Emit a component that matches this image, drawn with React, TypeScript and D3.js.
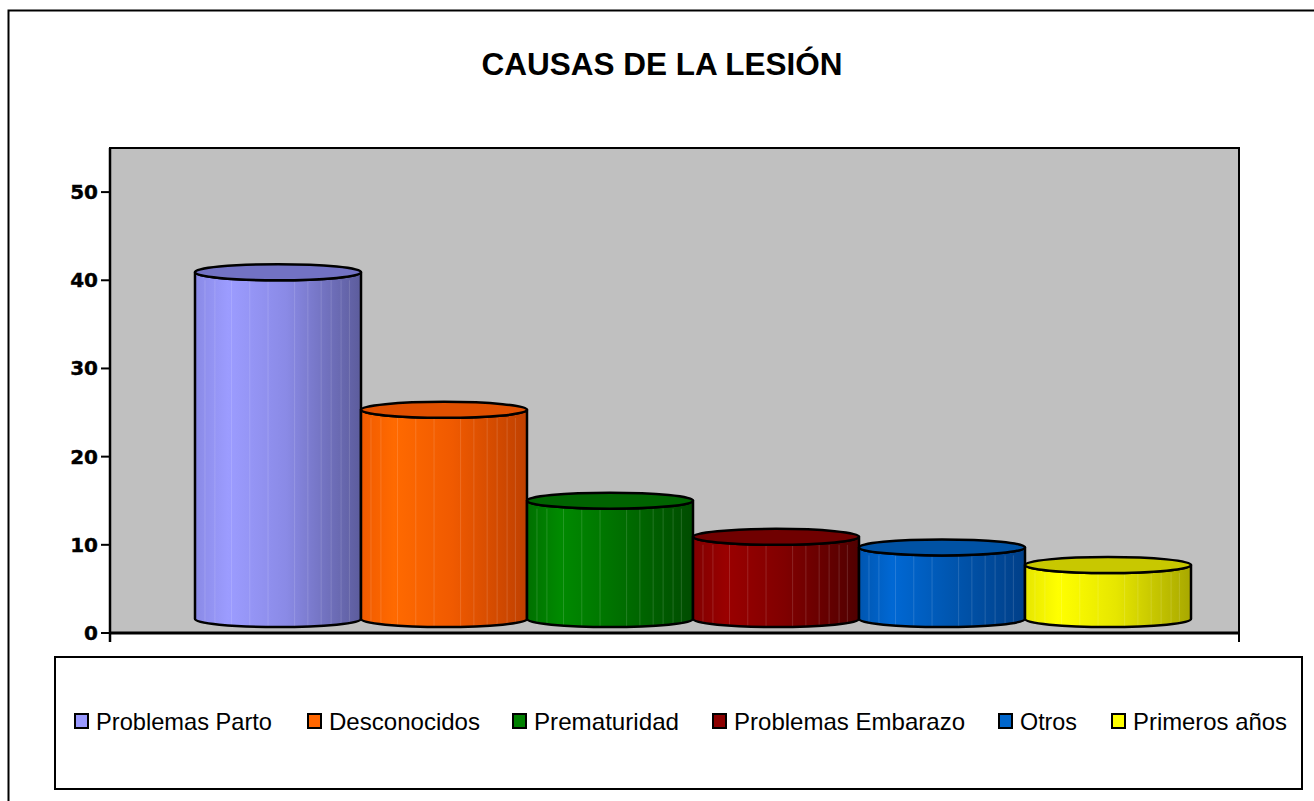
import React from "react";
import * as d3 from "d3";

const categories = ["Problemas Parto", "Desconocidos", "Prematuridad", "Problemas Embarazo", "Otros", "Primeros años"];
const values = [40, 24.4, 14.1, 10, 8.8, 6.8];
const yTicks = [0, 10, 20, 30, 40, 50];
const title = "CAUSAS DE LA LESIÓN";

// [light, base, dark, top]
const palettes = [
  ["#9c9cff", "#8a8ae6", "#5c5c9c", "#7272c4"],
  ["#ff6a00", "#f05a00", "#bf4000", "#e05000"],
  ["#008a00", "#007000", "#004c00", "#006400"],
  ["#9a0000", "#800000", "#500000", "#700000"],
  ["#0068d4", "#0056b0", "#003f88", "#0052a4"],
  ["#ffff00", "#e6e600", "#a8a800", "#c8c800"],
];
const legendColors = ["#9999ff", "#ff6600", "#008000", "#8b0000", "#0066cc", "#ffff00"];
const stripeFracs = [0.06, 0.12, 0.22, 0.33, 0.44, 0.6, 0.68, 0.76, 0.82, 0.88, 0.93];

export default function App() {
  const W = 1314, H = 801;
  const plot = { left: 110, top: 148, right: 1239, bottom: 633 };
  const y = d3.scaleLinear().domain([0, 55]).range([plot.bottom, plot.top]);
  const x = d3.scaleBand<string>().domain(categories).range([195, 1191]).padding(0);
  const bw = x.bandwidth();
  const ry = 8;
  const baseFront = y(0) - 6;

  const legendY = 721;
  const legendXs = [75, 308, 513, 713, 999, 1112];
  const legendEnds = [272, 480, 679, 965, 1077, 1287];

  return (
    <svg width={W} height={H} style={{ position: "absolute", left: 0, top: 0 }} xmlns="http://www.w3.org/2000/svg">
      <defs>
        {palettes.map((p, i) => (
          <linearGradient key={i} id={`g${i}`} x1="0" x2="1" y1="0" y2="0">
            <stop offset="0" stopColor={p[1]} />
            <stop offset="0.2" stopColor={p[0]} />
            <stop offset="0.55" stopColor={p[1]} />
            <stop offset="1" stopColor={p[2]} />
          </linearGradient>
        ))}
      </defs>
      <rect x={0} y={0} width={W} height={H} fill="#fff" />
      {/* outer border */}
      <path d={`M8.5,${H} V10.5 H${W}`} fill="none" stroke="#000" strokeWidth={2} />
      <text x={662} y={75} textAnchor="middle" fontFamily="Liberation Sans, Arial, sans-serif" fontWeight="bold" fontSize={31.5} fill="#000">{title}</text>

      {/* plot area */}
      <rect x={plot.left} y={plot.top} width={plot.right - plot.left} height={plot.bottom - plot.top} fill="#c0c0c0" stroke="#000" strokeWidth={2} />

      {/* bars */}
      {categories.map((c, i) => {
        const x0 = x(c)!;
        const x1 = x0 + bw;
        const cx = x0 + bw / 2;
        const rx = bw / 2;
        const topFront = y(values[i]);
        const topC = topFront - ry;
        const botC = baseFront - ry;
        const body = `M${x0},${topC} L${x0},${botC} A${rx},${ry} 0 0 0 ${x1},${botC} L${x1},${topC} A${rx},${ry} 0 0 1 ${x0},${topC} Z`;
        return (
          <g key={c}>
            <path d={body} fill={`url(#g${i})`} />
            {stripeFracs.map((f, k) => (
              <line key={k} x1={x0 + f * bw} x2={x0 + f * bw} y1={topC + ry} y2={botC + ry - 1} stroke="#fff" strokeOpacity={0.14} strokeWidth={1} />
            ))}
            <path d={body} fill="none" stroke="#000" strokeWidth={2.5} strokeLinejoin="round" />
            <ellipse cx={cx} cy={topC} rx={rx} ry={ry} fill={palettes[i][3]} stroke="#000" strokeWidth={2.5} />
          </g>
        );
      })}

      {/* axes */}
      <line x1={plot.left} x2={plot.left} y1={plot.top} y2={plot.bottom + 9} stroke="#000" strokeWidth={2.5} />
      <line x1={plot.left} x2={plot.right} y1={plot.bottom} y2={plot.bottom} stroke="#000" strokeWidth={3} />
      <line x1={plot.right} x2={plot.right} y1={plot.bottom} y2={plot.bottom + 9} stroke="#000" strokeWidth={2} />
      {yTicks.map((t) => (
        <g key={t}>
          <line x1={plot.left - 9} x2={plot.left} y1={y(t)} y2={y(t)} stroke="#000" strokeWidth={2} />
          <text x={plot.left - 12} y={y(t) + 7} textAnchor="end" fontFamily="DejaVu Sans, Verdana, sans-serif" fontWeight="bold" fontSize={20} fill="#000" stroke="#000" strokeWidth={0.4}>{t}</text>
        </g>
      ))}

      {/* legend */}
      <rect x={55} y={657} width={1247} height={132} fill="#fff" stroke="#000" strokeWidth={2} />
      {categories.map((c, i) => (
        <g key={c}>
          <rect x={legendXs[i]} y={legendY - 7} width={13} height={14} fill={legendColors[i]} stroke="#000" strokeWidth={2} />
          <text x={legendXs[i] + 21} y={legendY + 8.5} fontFamily="Liberation Sans, Arial, sans-serif" fontSize={24}
            textLength={legendEnds[i] - legendXs[i] - 21} lengthAdjust="spacingAndGlyphs" fill="#000">{c}</text>
        </g>
      ))}
    </svg>
  );
}
